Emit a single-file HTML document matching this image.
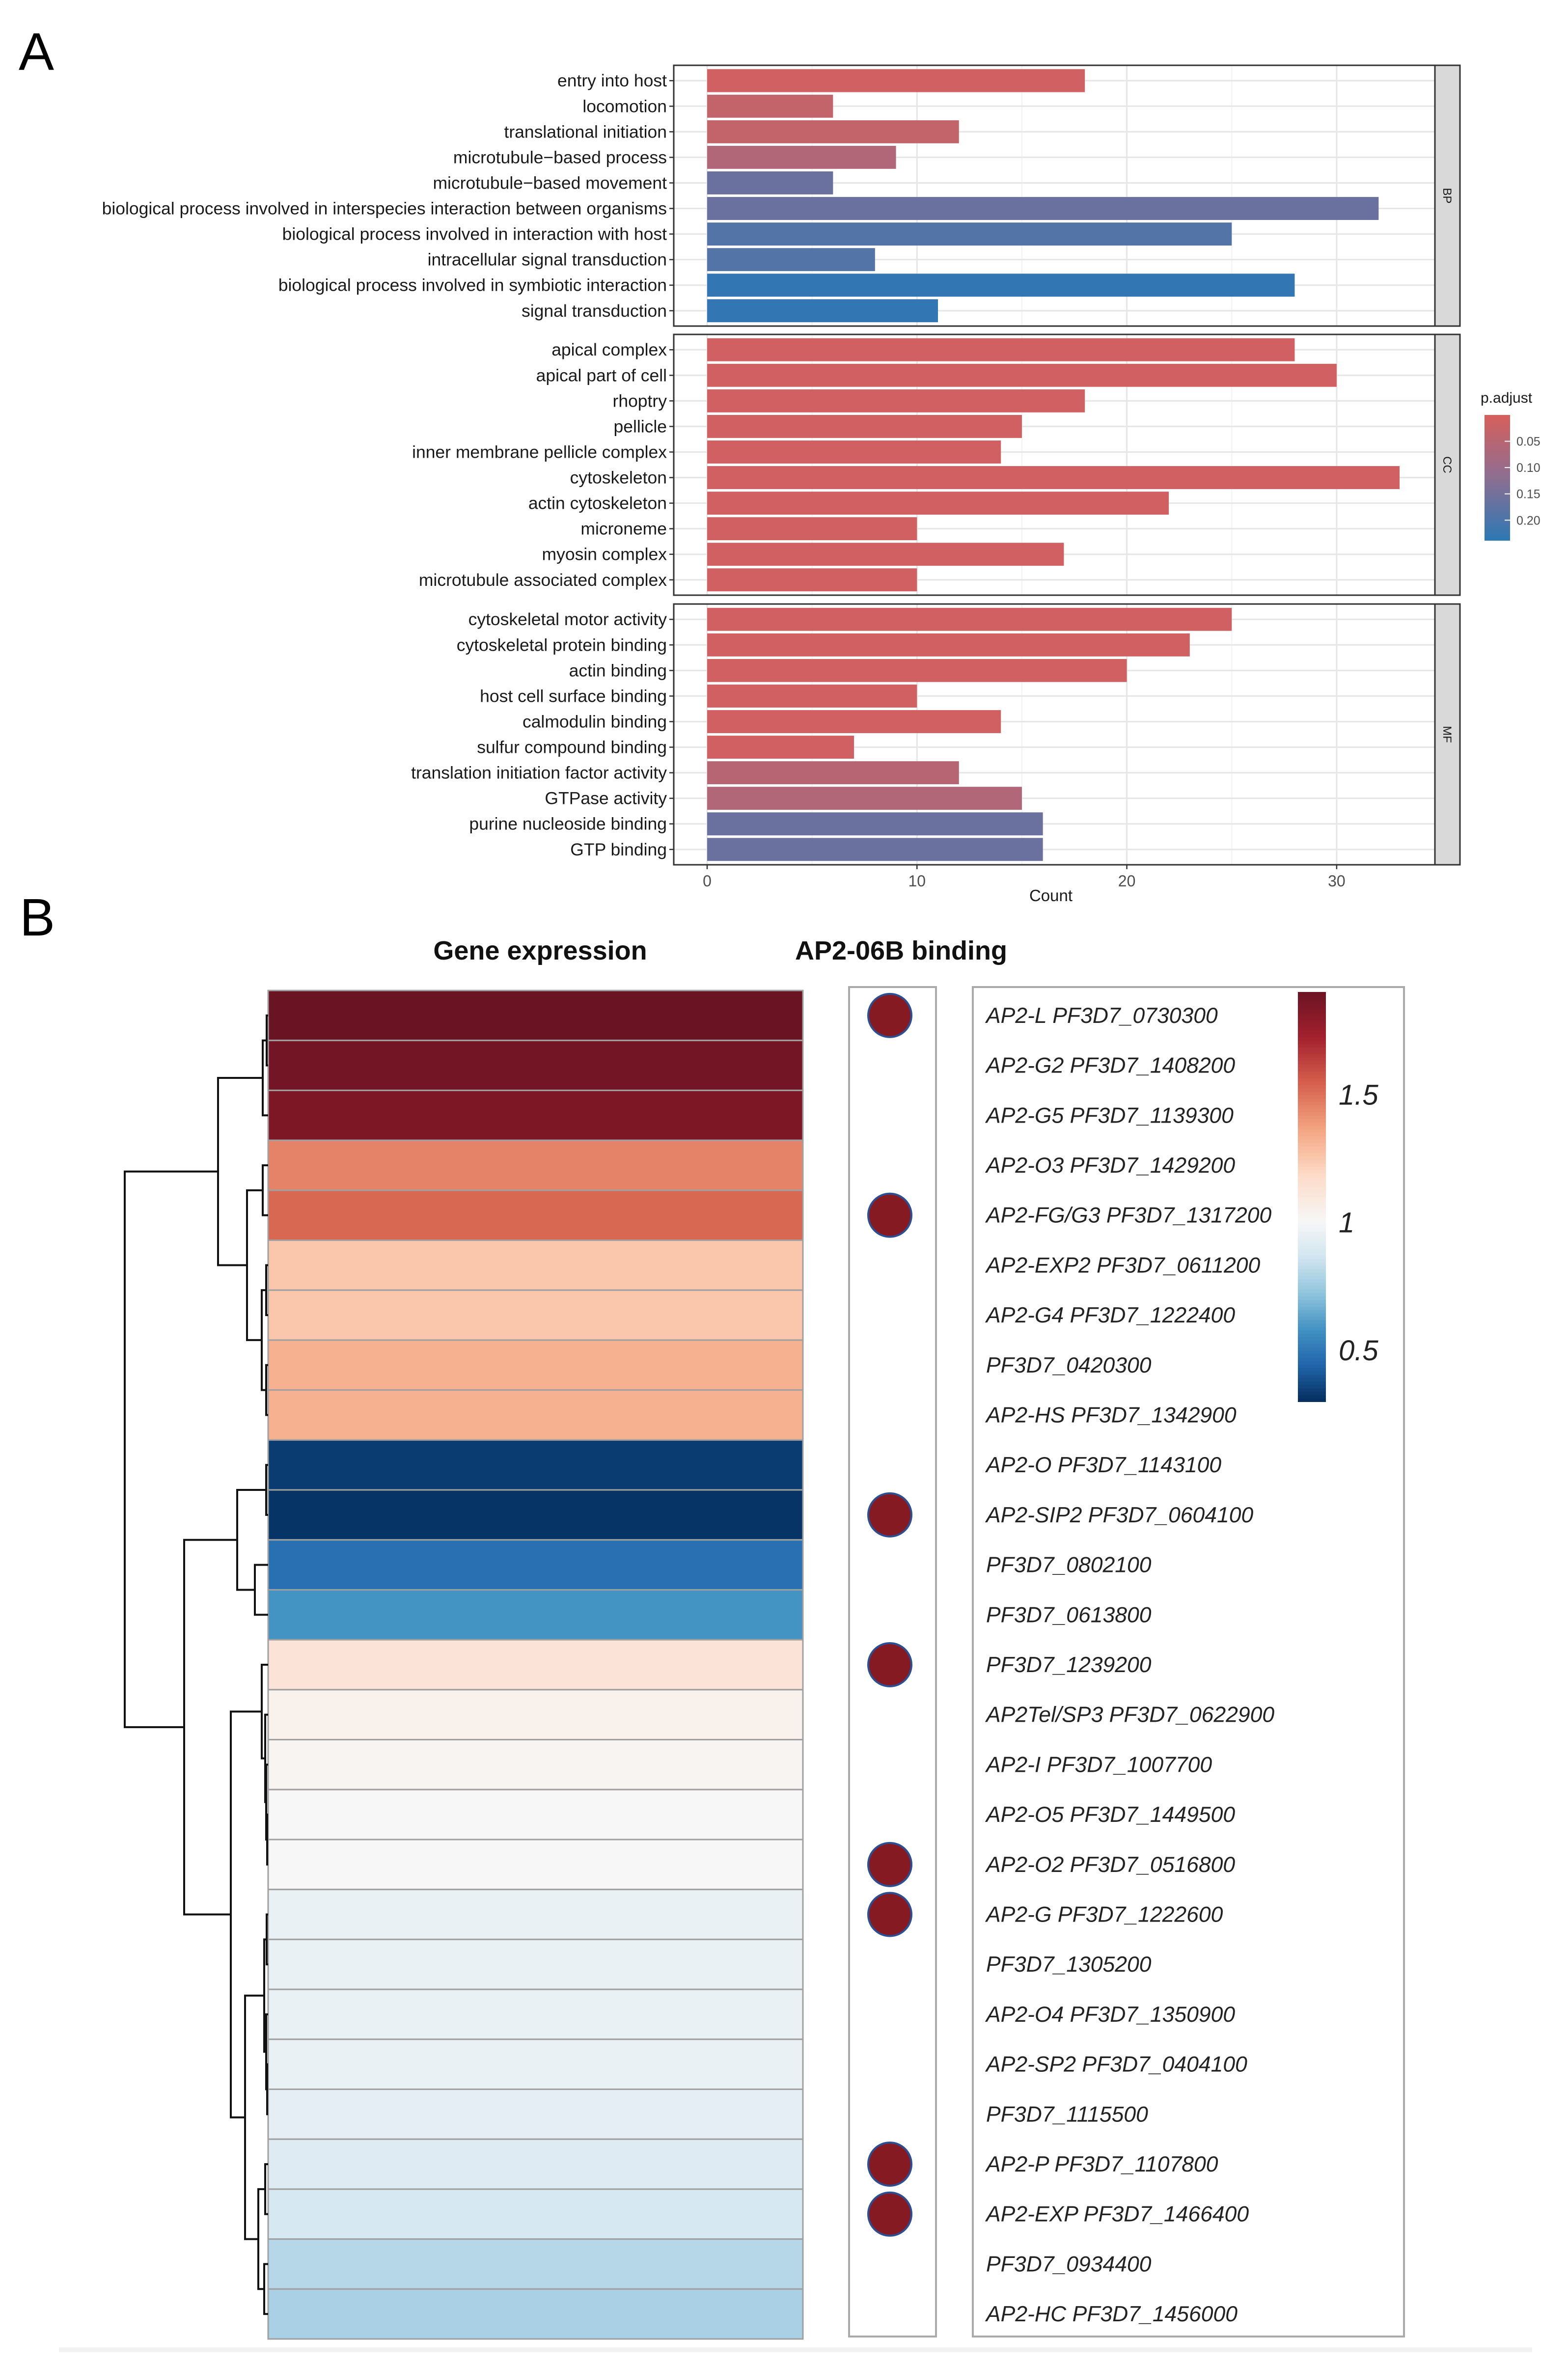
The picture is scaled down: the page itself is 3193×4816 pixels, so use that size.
<!DOCTYPE html>
<html><head><meta charset="utf-8"><style>
html,body{margin:0;padding:0;background:#fff}
svg{display:block}
text{font-family:"Liberation Sans",Arial,sans-serif}
</style></head><body>
<svg id="fig" xmlns="http://www.w3.org/2000/svg" width="3193" height="4816" viewBox="0 0 3193 4816">
<rect x="0" y="0" width="3193" height="4816" fill="#fff"/>
<text x="38" y="142" font-size="108">A</text>
<text x="40" y="1905" font-size="108">B</text>
<g id="ga"></g>
<g id="gb"></g>
</svg>
<script>
// ---------- Panel A data ----------
const facets = ["BP","CC","MF"];
const bpTerms = ["entry into host","locomotion","translational initiation","microtubule\u2212based process","microtubule\u2212based movement","biological process involved in interspecies interaction between organisms","biological process involved in interaction with host","intracellular signal transduction","biological process involved in symbiotic interaction","signal transduction"];
const bpCounts = [18,6,12,9,6,32,25,8,28,11];
const bpPadj = [0.01,0.03,0.03,0.06,0.16,0.16,0.19,0.19,0.23,0.23];
const ccTerms = ["apical complex","apical part of cell","rhoptry","pellicle","inner membrane pellicle complex","cytoskeleton","actin cytoskeleton","microneme","myosin complex","microtubule associated complex"];
const ccCounts = [28,30,18,15,14,33,22,10,17,10];
const ccPadj = [0.01,0.01,0.01,0.01,0.01,0.01,0.01,0.01,0.01,0.01];
const mfTerms = ["cytoskeletal motor activity","cytoskeletal protein binding","actin binding","host cell surface binding","calmodulin binding","sulfur compound binding","translation initiation factor activity","GTPase activity","purine nucleoside binding","GTP binding"];
const mfCounts = [25,23,20,10,14,7,12,15,16,16];
const mfPadj = [0.01,0.01,0.01,0.01,0.01,0.01,0.05,0.06,0.16,0.16];
const xTicks = [0,10,20,30];
const legendTicks = [0.05,0.10,0.15,0.20];

// ---------- Panel B data ----------
const genes = ["AP2-L PF3D7_0730300","AP2-G2 PF3D7_1408200","AP2-G5 PF3D7_1139300","AP2-O3 PF3D7_1429200","AP2-FG/G3 PF3D7_1317200","AP2-EXP2 PF3D7_0611200","AP2-G4 PF3D7_1222400","PF3D7_0420300","AP2-HS PF3D7_1342900","AP2-O PF3D7_1143100","AP2-SIP2 PF3D7_0604100","PF3D7_0802100","PF3D7_0613800","PF3D7_1239200","AP2Tel/SP3 PF3D7_0622900","AP2-I PF3D7_1007700","AP2-O5 PF3D7_1449500","AP2-O2 PF3D7_0516800","AP2-G PF3D7_1222600","PF3D7_1305200","AP2-O4 PF3D7_1350900","AP2-SP2 PF3D7_0404100","PF3D7_1115500","AP2-P PF3D7_1107800","AP2-EXP PF3D7_1466400","PF3D7_0934400","AP2-HC PF3D7_1456000"];
const expression = [1.9,1.87,1.84,1.45,1.52,1.25,1.25,1.32,1.32,0.33,0.31,0.47,0.58,1.12,1.04,1.02,1.0,1.0,0.95,0.95,0.95,0.95,0.93,0.91,0.88,0.80,0.77];
const binding = [1,0,0,0,1,0,0,0,0,0,1,0,0,1,0,0,0,1,1,0,0,0,0,1,1,0,0];
const heatTicks = [0.5,1,1.5];
const tree = [292,[102,[11,[3,0,1],2],[43,[11,3,4],[13,[4,5,6],[4,7,8]]]],[171,[63,[4,9,10],[27,11,12]],[76,[13,13,[6,14,[4,15,[2,16,17]]]],[47,[8,[3,18,19],[4,20,[2,21,22]]],[20,[6,23,24],[8,25,26]]]]]];

const NS="http://www.w3.org/2000/svg";
function mk(parent,tag,attrs,txt){const e=document.createElementNS(NS,tag);for(const k in attrs)e.setAttribute(k,attrs[k]);if(txt!==undefined)e.textContent=txt;parent.appendChild(e);return e;}
function hex(c){return [parseInt(c.slice(1,3),16),parseInt(c.slice(3,5),16),parseInt(c.slice(5,7),16)];}
function lerpC(a,b,t){const A=hex(a),B=hex(b);return "rgb("+A.map((v,i)=>Math.round(v+(B[i]-v)*t)).join(",")+")";}

// ---------- Panel A ----------
const ga=document.getElementById('ga');
const pL=1372,pR=2973,x0=1440,unit=42.73;
const xs=v=>x0+v*unit;
const tops=[133,681,1230],pH=531,step=pH/10.2;
const padjMin=0,padjMax=0.238;
const pcol=p=>{const t=Math.max(0,Math.min(1,(p-padjMin)/(padjMax-padjMin)));
  return t<0.5?lerpC("#d65f5c","#8c6e93",t/0.5):lerpC("#8c6e93","#2b78b5",(t-0.5)/0.5);};
const termsAll=[bpTerms,ccTerms,mfTerms],countsAll=[bpCounts,ccCounts,mfCounts],padjAll=[bpPadj,ccPadj,mfPadj];
facets.forEach((f,fi)=>{
  const top=tops[fi];
  const bg=mk(ga,'rect',{x:pL,y:top,width:pR-pL,height:pH,fill:'#fff'});
  
  
  [5,15,25,35].forEach(v=>{const l=mk(ga,'line',{x1:xs(v),x2:xs(v),y1:top,y2:top+pH,stroke:'#f2f2f2','stroke-width':2});
    
    });
  xTicks.forEach(v=>{const l=mk(ga,'line',{x1:xs(v),x2:xs(v),y1:top,y2:top+pH,stroke:'#e6e6e6','stroke-width':3});
    
    });
  termsAll[fi].forEach((t,i)=>{
    const cy=top+step*(0.6+i);
    const gl=mk(ga,'line',{x1:pL,x2:pR,y1:cy,y2:cy,stroke:'#e6e6e6','stroke-width':3});
    
    
    const b=mk(ga,'rect',{x:xs(0),y:cy-step*0.45,width:xs(countsAll[fi][i])-xs(0),height:step*0.9,fill:pcol(padjAll[fi][i])});
    
    
    const tk=mk(ga,'line',{x1:pL-9,x2:pL,y1:cy,y2:cy,stroke:'#333','stroke-width':2.5});
    
    
    const lb=mk(ga,'text',{x:pL-14,y:cy+12,'font-size':35.5,'text-anchor':'end',fill:'#1a1a1a'},t);
    
    
  });
  const bd=mk(ga,'rect',{x:pL,y:top,width:pR-pL,height:pH,fill:'none',stroke:'#333','stroke-width':3});
  
  
  const st=mk(ga,'rect',{x:2922,y:top,width:51,height:pH,fill:'#d9d9d9',stroke:'#333','stroke-width':3});
  
  
  const sl=mk(ga,'text',{x:0,y:0,'font-size':24,'text-anchor':'middle',fill:'#1a1a1a',transform:'translate(2939,'+(top+pH/2)+') rotate(90)'},f);
  
  
});
const axB=tops[2]+pH;
xTicks.forEach(v=>{
  const tk=mk(ga,'line',{x1:xs(v),x2:xs(v),y1:axB,y2:axB+9,stroke:'#333','stroke-width':2.5});
  
  
  const tl=mk(ga,'text',{x:xs(v),y:axB+44,'font-size':32,'text-anchor':'middle',fill:'#4d4d4d'},String(v));
  
  
});
const xt=mk(ga,'text',{x:2140,y:1835,'font-size':33,'text-anchor':'middle',fill:'#1a1a1a'},'Count');


// legend
const lgT=mk(ga,'text',{x:3015,y:820,'font-size':30,fill:'#1a1a1a'},'p.adjust');


const lgTop=845,lgBot=1100,lgs=p=>lgTop+(p-padjMin)/(padjMax-padjMin)*(lgBot-lgTop);
for(let k=0;k<60;k++){const p0=padjMin+(padjMax-padjMin)*k/60;
  const r=mk(ga,'rect',{x:3023,y:lgs(p0),width:52,height:(lgBot-lgTop)/60+1,fill:pcol(p0)});
  
  }
legendTicks.forEach(p=>{
  const l=mk(ga,'line',{x1:3064,x2:3075,y1:lgs(p),y2:lgs(p),stroke:'#fff','stroke-width':2});
  
  
  const t=mk(ga,'text',{x:3088,y:lgs(p)+9,'font-size':25,fill:'#4d4d4d'},p.toFixed(2));
  
  
});

// ---------- Panel B ----------
const gb=document.getElementById('gb');
const hX=546,hW=1089,hTop=2017,rowH=(4763-2017)/27;
const stops=["#053061","#2166ac","#4393c3","#92c5de","#d1e5f0","#f7f7f7","#fddbc7","#f4a582","#d6604d","#a3202e","#6a1322"];
const vMin=0.3,vMid=1.0,vMax=1.9;
function ecol(v){let s; if(v<=vMid){s=5*(v-vMin)/(vMid-vMin);}else{s=5+5*(v-vMid)/(vMax-vMid);}
  s=Math.max(0,Math.min(10,s));const i=Math.min(9,Math.floor(s));return lerpC(stops[i],stops[i+1],s-i);}
const t1=mk(gb,'text',{x:1100,y:1954,'font-size':54,'font-weight':'bold','text-anchor':'middle',fill:'#111'},'Gene expression');


const t2=mk(gb,'text',{x:1835,y:1954,'font-size':54,'font-weight':'bold','text-anchor':'middle',fill:'#111'},'AP2-06B binding');


const rowY=i=>hTop+rowH*(i+0.5);
expression.forEach((v,i)=>{
  const c=mk(gb,'rect',{x:hX,y:hTop+rowH*i,width:hW,height:rowH,fill:ecol(v),stroke:'#a0a0a0','stroke-width':3});
  
  
});
const db=mk(gb,'rect',{x:1729,y:2010,width:177,height:2748,fill:'none',stroke:'#aaa','stroke-width':4});


binding.forEach((b,i)=>{ if(!b) return;
  const d=mk(gb,'circle',{cx:1812,cy:rowY(i),r:44,fill:'#861a23',stroke:'#2b4f93','stroke-width':4});
  
  
});
const lbx=mk(gb,'rect',{x:1981,y:2010,width:878,height:2748,fill:'none',stroke:'#aaa','stroke-width':4});


genes.forEach((g,i)=>{
  const t=mk(gb,'text',{x:2008,y:rowY(i)+15,'font-size':44.5,'font-style':'italic',fill:'#222'},g);
  
  
});
// colorbar
const cbTop=2021,cbBot=2854,cbs=v=>cbBot-(v-vMin)/(vMax-vMin)*(cbBot-cbTop);
for(let k=0;k<120;k++){const v=vMin+(vMax-vMin)*k/120;
  const r=mk(gb,'rect',{x:2643,y:cbs(v)-(cbBot-cbTop)/120-1,width:57,height:(cbBot-cbTop)/120+2,fill:ecol(v)});
  
  }
heatTicks.forEach(v=>{
  const t=mk(gb,'text',{x:2726,y:cbs(v)+20,'font-size':58,'font-style':'italic',fill:'#222'},String(v));
  
  
});
// dendrogram
function drawNode(n){
  if(typeof n==='number') return {x:hX,y:rowY(n)};
  const a=drawNode(n[1]),b=drawNode(n[2]);const x=hX-n[0];
  const v=mk(gb,'line',{x1:x,x2:x,y1:a.y,y2:b.y,stroke:'#111','stroke-width':4});
  
  
  [a,b].forEach(c=>{const h=mk(gb,'line',{x1:x-2,x2:c.x,y1:c.y,y2:c.y,stroke:'#111','stroke-width':4});
    
    });
  return {x:x,y:(a.y+b.y)/2};
}
drawNode(tree);
const bl=mk(gb,'rect',{x:120,y:4780,width:3000,height:10,fill:'#f2f2f2'});


</script>
</body></html>
